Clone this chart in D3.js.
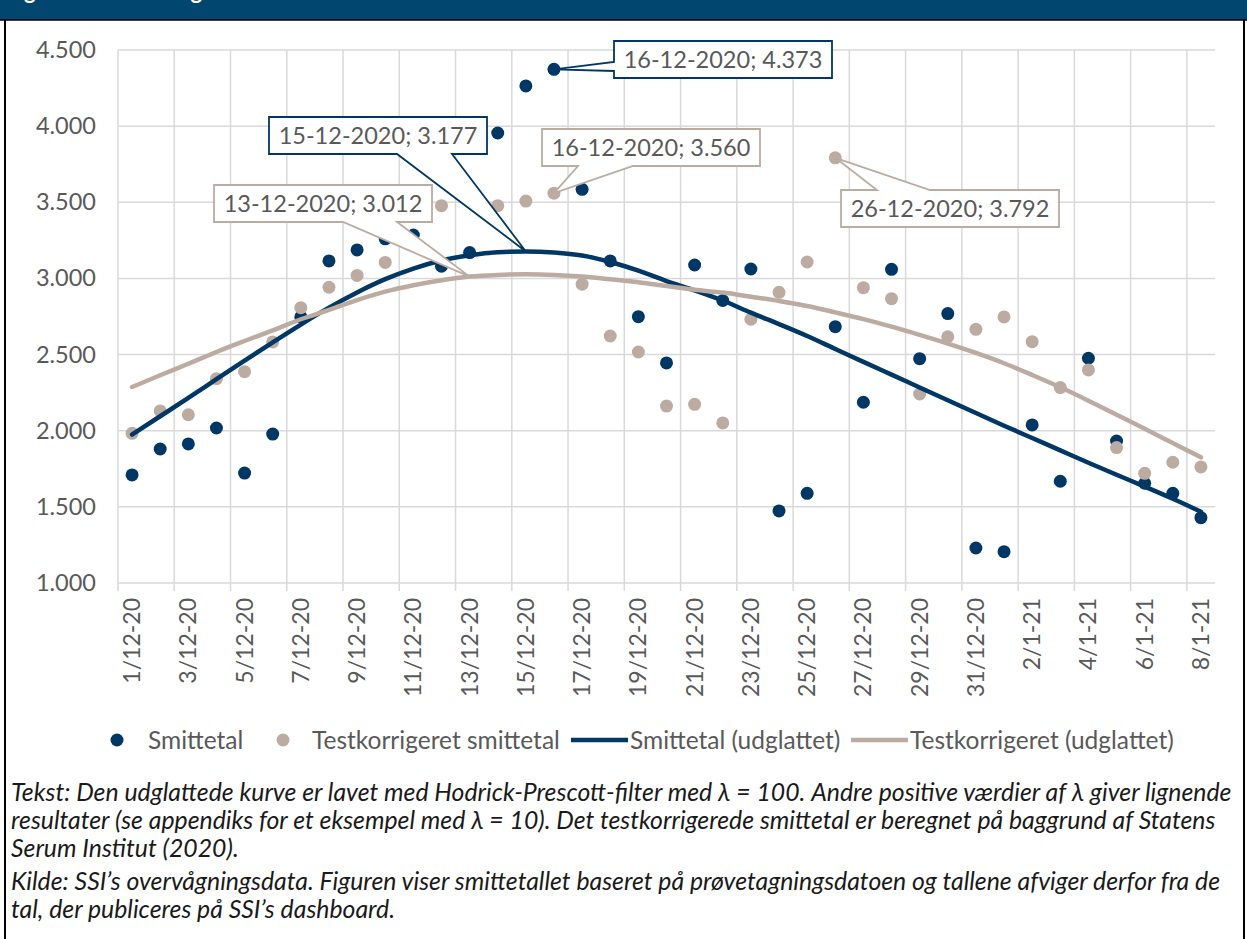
<!DOCTYPE html>
<html>
<head>
<meta charset="utf-8">
<script src="https://d3js.org/d3.v7.min.js"></script>
<style>
    body { margin: 0; background: #fff; font-family: Lato, sans-serif; }
    svg { display: block; }
</style>
</head>
<body>
<div id="chart"></div>
<script>
var dates = ["1/12-20","2/12-20","3/12-20","4/12-20","5/12-20","6/12-20","7/12-20","8/12-20","9/12-20","10/12-20",
    "11/12-20","12/12-20","13/12-20","14/12-20","15/12-20","16/12-20","17/12-20","18/12-20","19/12-20","20/12-20",
    "21/12-20","22/12-20","23/12-20","24/12-20","25/12-20","26/12-20","27/12-20","28/12-20","29/12-20","30/12-20",
    "31/12-20","1/1-21","2/1-21","3/1-21","4/1-21","5/1-21","6/1-21","7/1-21","8/1-21"];

var smittetal = [1710,1880,1913,2018,1722,1978,2747,3115,3187,3260,3285,3080,3170,3955,4264,4373,3585,3115,2749,2445,
    3088,2855,3062,1473,1589,2683,2187,3060,2473,2769,1230,1206,2038,1668,2476,1932,1655,1589,1429];

var testkorrigeret = [1983,2130,2105,2342,2388,2583,2808,2942,3020,3105,3490,3478,3900,3478,3508,3560,2962,2622,2517,2162,
    2173,2051,2732,2909,3108,3792,2939,2867,2241,2617,2666,2747,2585,2283,2399,1889,1720,1793,1762];

var smittetalUdglattet = [1975,2095,2215,2338,2460,2580,2697,2808,2908,2995,3065,3118,3152,3172,3177,3170,3150,3108,3051,2983,
    2922,2855,2775,2700,2622,2537,2452,2368,2284,2200,2116,2033,1952,1871,1790,1711,1633,1553,1468];

var testkorrigeretUdglattet = [2287,2364,2440,2517,2589,2659,2732,2793,2858,2913,2955,2988,3012,3023,3027,3023,3012,2994,2975,2950,
    2925,2907,2880,2852,2819,2777,2733,2683,2629,2572,2511,2443,2366,2285,2197,2105,2013,1919,1825];

var yTicks = [1000,1500,2000,2500,3000,3500,4000,4500];

var legendNames = ["Smittetal", "Testkorrigeret smittetal", "Smittetal (udglattet)", "Testkorrigeret (udglattet)"];

var noteLines = [
    "Tekst: Den udglattede kurve er lavet med Hodrick-Prescott-filter med \u03bb = 100. Andre positive v\u00e6rdier af \u03bb giver lignende",
    "resultater (se appendiks for et eksempel med \u03bb = 10). Det testkorrigerede smittetal er beregnet p\u00e5 baggrund af Statens",
    "Serum Institut (2020).",
    "Kilde: SSI\u2019s overv\u00e5gningsdata. Figuren viser smittetallet baseret p\u00e5 pr\u00f8vetagningsdatoen og tallene afviger derfor fra de",
    "tal, der publiceres p\u00e5 SSI\u2019s dashboard."
];

var darkBlue = "#003764", tan = "#bcaba1", gridGray = "#d9d9d9", labelGray = "#595959";

var width = 1247, height = 939;
var svg = d3.select("#chart").append("svg")
    .attr("width", width)
    .attr("height", height);

// header band (title is cut off in the original)
svg.append("rect").attr("x", 0).attr("y", 0).attr("width", width).attr("height", 20).attr("fill", "#00466e");
svg.append("text").attr("x", 6).attr("y", -1)
    .attr("fill", "#fff").attr("font-size", 22).attr("font-weight", 700)
    .text("Figur 1: Smittetal og trend");
svg.append("line").attr("x1", 0).attr("x2", width).attr("y1", 20).attr("y2", 20).attr("stroke", "#000").attr("stroke-width", 1.5);
svg.append("line").attr("x1", 5).attr("x2", 5).attr("y1", 20).attr("y2", height).attr("stroke", "#000").attr("stroke-width", 2);
svg.append("line").attr("x1", 1244).attr("x2", 1244).attr("y1", 20).attr("y2", height).attr("stroke", "#000").attr("stroke-width", 2);

var x = d3.scaleBand().domain(dates).range([118, 1215]).padding(0);
var y = d3.scaleLinear().domain([1000, 4500]).range([583, 50]);
var cx = function (i) { return x(dates[i]) + x.bandwidth() / 2; };

// gridlines
svg.append("g").selectAll("line")
    .data(yTicks)
    .enter().append("line")
    .attr("x1", 118).attr("x2", 1215)
    .attr("y1", function (d) { return y(d); }).attr("y2", function (d) { return y(d); })
    .attr("stroke", gridGray).attr("stroke-width", 1.5);

var evenDates = dates.filter(function (d, i) { return i % 2 === 0; });
svg.append("g").selectAll("line")
    .data(evenDates)
    .enter().append("line")
    .attr("x1", function (d) { return x(d); }).attr("x2", function (d) { return x(d); })
    .attr("y1", 50).attr("y2", 591)
    .attr("stroke", gridGray).attr("stroke-width", 1.5);

// y axis labels
var yaxis = d3.axisLeft(y).tickValues(yTicks).tickSize(0).tickPadding(0)
    .tickFormat(function (d) { return d3.format(",.0f")(d).replace(",", "."); });
var gy = svg.append("g").attr("transform", "translate(96,0)").call(yaxis);
gy.select(".domain").remove();
gy.selectAll("text").attr("font-family", "Lato, sans-serif").attr("font-size", 23.5).attr("fill", labelGray);

// x axis labels
var xaxis = d3.axisBottom(x).tickValues(evenDates).tickSize(0);
var gx = svg.append("g").attr("transform", "translate(0,583)").call(xaxis);
gx.select(".domain").remove();
gx.selectAll("text")
    .attr("transform", "rotate(-90)")
    .attr("x", -15).attr("y", 0).attr("dy", "0.35em")
    .style("text-anchor", "end")
    .attr("font-family", "Lato, sans-serif").attr("font-size", 23).attr("fill", labelGray);

// points
svg.append("g").selectAll("circle")
    .data(smittetal)
    .enter().append("circle")
    .attr("cx", function (d, i) { return cx(i); })
    .attr("cy", function (d) { return y(d); })
    .attr("r", 6.5).attr("fill", darkBlue);

svg.append("g").selectAll("circle")
    .data(testkorrigeret)
    .enter().append("circle")
    .attr("cx", function (d, i) { return cx(i); })
    .attr("cy", function (d) { return y(d); })
    .attr("r", 6.5).attr("fill", tan);

// smoothed lines
var line = d3.line()
    .x(function (d, i) { return cx(i); })
    .y(function (d) { return y(d); })
    .curve(d3.curveMonotoneX);

svg.append("path").datum(smittetalUdglattet)
    .attr("d", line).attr("fill", "none").attr("stroke", darkBlue)
    .attr("stroke-width", 4.5).attr("stroke-linecap", "round");
svg.append("path").datum(testkorrigeretUdglattet)
    .attr("d", line).attr("fill", "none").attr("stroke", tan)
    .attr("stroke-width", 4.5).attr("stroke-linecap", "round");

// callouts
var callouts = [
    { i: 12, series: testkorrigeretUdglattet, label: "13-12-2020; 3.012", color: tan, bx: 214, by: 185, side: "bottom", b1: 343, b2: 397 },
    { i: 14, series: smittetalUdglattet, label: "15-12-2020; 3.177", color: darkBlue, bx: 269, by: 117, side: "bottom", b1: 397, b2: 452 },
    { i: 15, series: testkorrigeret, label: "16-12-2020; 3.560", color: tan, bx: 542, by: 129, side: "bottom", b1: 578, b2: 633 },
    { i: 15, series: smittetal, label: "16-12-2020; 4.373", color: darkBlue, bx: 614, by: 41, side: "left", b1: 62, b2: 71 },
    { i: 25, series: testkorrigeret, label: "26-12-2020; 3.792", color: tan, bx: 841, by: 190, side: "top", b1: 877, b2: 930 }
];
var bw = 218, bh = 37;

callouts.forEach(function (c) {
    var ax = cx(c.i), ay = y(c.series[c.i]);
    var x0 = c.bx, x1 = c.bx + bw, y0 = c.by, y1 = c.by + bh;
    var p = d3.path();
    if (c.side === "bottom") {
        p.moveTo(x0, y0); p.lineTo(x1, y0); p.lineTo(x1, y1); p.lineTo(c.b2, y1);
        p.lineTo(ax, ay); p.lineTo(c.b1, y1); p.lineTo(x0, y1); p.closePath();
    } else if (c.side === "top") {
        p.moveTo(x0, y0); p.lineTo(c.b1, y0); p.lineTo(ax, ay); p.lineTo(c.b2, y0);
        p.lineTo(x1, y0); p.lineTo(x1, y1); p.lineTo(x0, y1); p.closePath();
    } else {
        p.moveTo(x0, y0); p.lineTo(x1, y0); p.lineTo(x1, y1); p.lineTo(x0, y1);
        p.lineTo(x0, c.b2); p.lineTo(ax, ay); p.lineTo(x0, c.b1); p.closePath();
    }
    svg.append("path").attr("d", p.toString())
        .attr("fill", "#fff").attr("stroke", c.color).attr("stroke-width", 1.8)
        .attr("stroke-linejoin", "miter");
    svg.append("text")
        .attr("x", x0 + bw / 2).attr("y", y0 + bh / 2).attr("dy", "0.35em")
        .attr("text-anchor", "middle")
        .attr("font-size", 23.5).attr("fill", labelGray)
        .text(c.label);
});

// legend
var ly = 740;
var legend = svg.append("g").attr("font-size", 24.5).attr("fill", labelGray);
legend.append("circle").attr("cx", 117).attr("cy", ly).attr("r", 6.5).attr("fill", darkBlue);
legend.append("text").attr("x", 148).attr("y", ly).attr("dy", "0.35em").text(legendNames[0]);
legend.append("circle").attr("cx", 283).attr("cy", ly).attr("r", 6.5).attr("fill", tan);
legend.append("text").attr("x", 312).attr("y", ly).attr("dy", "0.35em").text(legendNames[1]);
legend.append("line").attr("x1", 571).attr("x2", 628).attr("y1", ly).attr("y2", ly)
    .attr("stroke", darkBlue).attr("stroke-width", 4.5);
legend.append("text").attr("x", 630).attr("y", ly).attr("dy", "0.35em").text(legendNames[2]);
legend.append("line").attr("x1", 851).attr("x2", 908).attr("y1", ly).attr("y2", ly)
    .attr("stroke", tan).attr("stroke-width", 4.5);
legend.append("text").attr("x", 910).attr("y", ly).attr("dy", "0.35em").text(legendNames[3]);

// notes
var noteY = [801, 829, 857, 890, 918];
svg.append("g").selectAll("text")
    .data(noteLines)
    .enter().append("text")
    .attr("x", 11)
    .attr("y", function (d, i) { return noteY[i]; })
    .attr("font-size", 24.8).attr("font-style", "italic").attr("fill", "#1a1a1a")
    .text(function (d) { return d; });
</script>
</body>
</html>
